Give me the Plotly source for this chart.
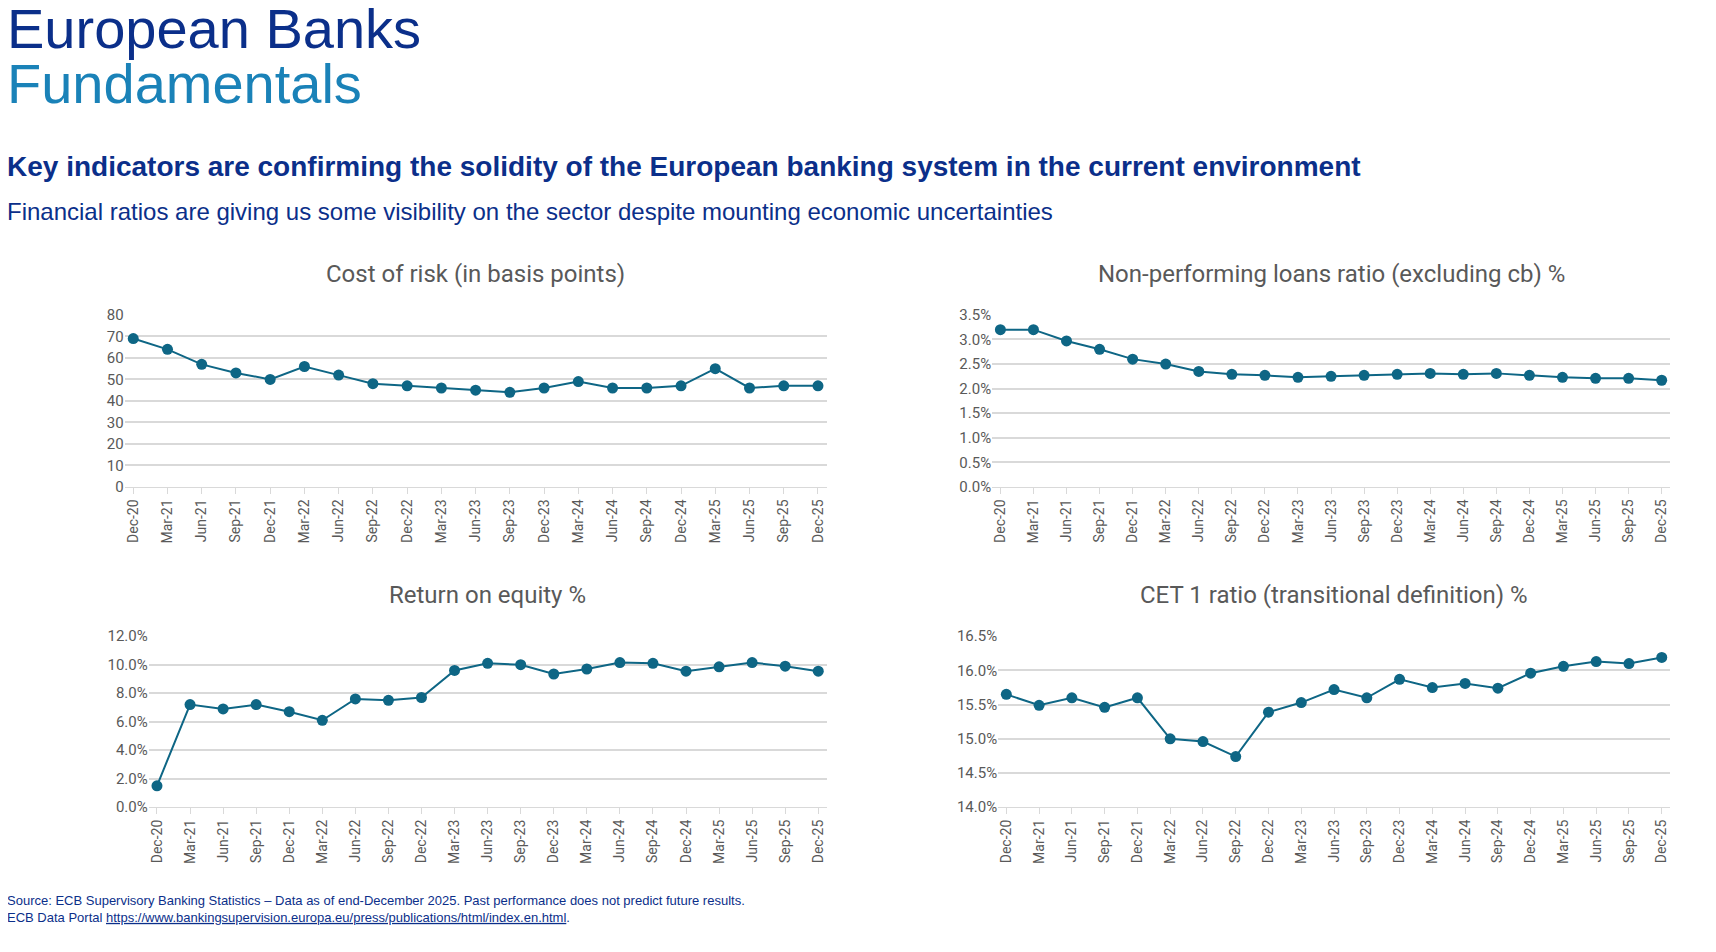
import plotly.graph_objects as go

quarters = ["Dec-20", "Mar-21", "Jun-21", "Sep-21", "Dec-21", "Mar-22", "Jun-22", "Sep-22",
            "Dec-22", "Mar-23", "Jun-23", "Sep-23", "Dec-23", "Mar-24", "Jun-24", "Sep-24",
            "Dec-24", "Mar-25", "Jun-25", "Sep-25", "Dec-25"]
cost_of_risk = [69, 64, 57, 53, 50, 56, 52, 48, 47, 46, 45, 44, 46, 49, 46, 46, 47, 55, 46, 47, 47]
npl_ratio = [3.2, 3.2, 2.97, 2.8, 2.6, 2.5, 2.35, 2.29, 2.27, 2.23, 2.25, 2.27, 2.29, 2.31,
             2.29, 2.31, 2.27, 2.23, 2.21, 2.21, 2.17]
roe = [1.5, 7.2, 6.9, 7.2, 6.7, 6.1, 7.6, 7.5, 7.7, 9.6, 10.1, 10.0, 9.35, 9.7, 10.15, 10.1,
       9.55, 9.85, 10.15, 9.9, 9.55]
cet1 = [15.65, 15.49, 15.6, 15.46, 15.6, 15.0, 14.96, 14.74, 15.39, 15.53, 15.72, 15.6, 15.87,
        15.75, 15.81, 15.74, 15.96, 16.06, 16.13, 16.1, 16.19]

LINE = "#0e6685"
GREY = "#595959"
NAVY = "#0b2f8a"

# (title, values, x-domain, y-domain, y-range, dtick, suffix, format)
panels = [
    ("Cost of risk (in basis points)", cost_of_risk, [0.068, 0.477], [0.497, 0.681], [0, 80], 10, "", ".0f"),
    ("Non-performing loans ratio (excluding cb) %", npl_ratio, [0.5735, 0.9685], [0.497, 0.681], [0, 3.5], 0.5, "%", ".1f"),
    ("Return on equity %", roe, [0.082, 0.477], [0.154, 0.337], [0, 12], 2, "%", ".1f"),
    ("CET 1 ratio (transitional definition) %", cet1, [0.577, 0.9685], [0.154, 0.337], [14, 16.5], 0.5, "%", ".1f"),
]

fig = go.Figure()
for i, (title, vals, xd, yd, yr, dt, suf, fmt) in enumerate(panels):
    n = "" if i == 0 else str(i + 1)
    fig.add_trace(go.Scatter(x=quarters, y=vals, mode="lines+markers", xaxis="x" + n, yaxis="y" + n,
                             line=dict(color=LINE, width=2), marker=dict(color=LINE, size=11),
                             showlegend=False))
    fig.update_layout({
        "xaxis" + n: dict(domain=xd, anchor="y" + n, tickangle=-90, showgrid=False,
                          range=[-0.25, len(quarters) - 0.75],
                          showline=True, linecolor="#d9d9d9", ticks="outside", ticklen=6,
                          tickcolor="#d9d9d9", tickfont=dict(size=14, color=GREY, family="Roboto")),
        "yaxis" + n: dict(domain=yd, anchor="x" + n, range=yr, dtick=dt, ticksuffix=suf, tickformat=fmt,
                          gridcolor="#d9d9d9", gridwidth=1.5, zeroline=False,
                          tickfont=dict(size=15, color=GREY, family="Roboto")),
    })
    fig.add_annotation(text=title, x=(xd[0] + xd[1]) / 2, y=yd[1] + 0.044, xref="paper", yref="paper",
                       xanchor="center", yanchor="middle",
                       showarrow=False, font=dict(size=24, color=GREY, family="Roboto"))

fig.add_annotation(text="European Banks", x=-0.002, y=1.024, xref="paper", yref="paper", xanchor="left",
                   yanchor="top", showarrow=False, font=dict(size=56, color=NAVY, family="Liberation Sans"))
fig.add_annotation(text="Fundamentals", x=-0.002, y=0.965, xref="paper", yref="paper", xanchor="left",
                   yanchor="top", showarrow=False, font=dict(size=56, color="#1a82b8", family="Liberation Sans"))
fig.add_annotation(text="<b>Key indicators are confirming the solidity of the European banking system in the current environment</b>",
                   x=-0.002, y=0.84, xref="paper", yref="paper", xanchor="left", yanchor="middle",
                   showarrow=False, font=dict(size=28, color=NAVY, family="Liberation Sans"))
fig.add_annotation(text="Financial ratios are giving us some visibility on the sector despite mounting economic uncertainties",
                   x=-0.002, y=0.792, xref="paper", yref="paper", xanchor="left", yanchor="middle",
                   showarrow=False, font=dict(size=24, color=NAVY, family="Liberation Sans"))
fig.add_annotation(text="Source: ECB Supervisory Banking Statistics – Data as of end-December 2025. Past performance does not predict future results.<br>"
                        "ECB Data Portal <u>https://www.bankingsupervision.europa.eu/press/publications/html/index.en.html</u>.",
                   x=-0.002, y=0.045, xref="paper", yref="paper", xanchor="left", yanchor="middle", align="left",
                   showarrow=False, font=dict(size=13, color=NAVY, family="Liberation Sans Narrow, Liberation Sans"))

fig.update_layout(width=1716, height=952, margin=dict(l=0, r=0, t=0, b=0),
                  paper_bgcolor="white", plot_bgcolor="white")
fig.write_html("out.html")
